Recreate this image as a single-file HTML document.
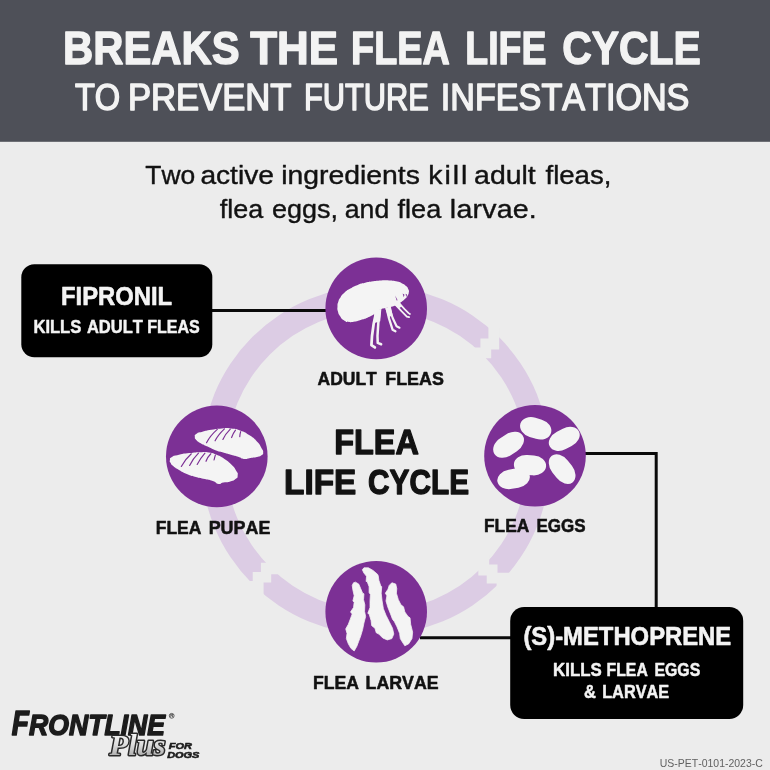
<!DOCTYPE html>
<html lang="en">
<head>
<meta charset="utf-8">
<title>Breaks the Flea Life Cycle</title>
<style>
html,body{margin:0;padding:0;background:#ececec;}
body{width:770px;height:770px;overflow:hidden;font-family:"Liberation Sans",sans-serif;}
svg{display:block;will-change:transform;}
text{font-family:"Liberation Sans",sans-serif;font-kerning:none;}
.b{font-weight:700;}
.w{fill:#f3f3f3;}
.k{fill:#121212;}
.g{fill:#626262;}
.sw{stroke:#f3f3f3;stroke-linejoin:round;}
.sk{stroke:#121212;stroke-linejoin:round;}
.bi{font-weight:700;font-style:italic;}
.lk{fill:#1c1c1c;stroke:#1c1c1c;stroke-linejoin:round;}
.lk2{fill:#1c1c1c;stroke:#1c1c1c;}
.plus{font-family:"Liberation Serif",serif;font-weight:700;font-style:italic;font-kerning:none;paint-order:stroke;stroke:#2a2a2a;stroke-width:2.9px;stroke-linejoin:round;fill:url(#pg);}
</style>
</head>
<body>
<svg width="770" height="770" viewBox="0 0 770 770">
  <rect width="770" height="770" fill="#ececec"/>
  <!-- header -->
  <rect width="770" height="141.8" fill="#4e5058"/>
  <text class="b w sw" y="63.50" font-size="46.97" stroke-width="1.40"><tspan x="63.00" textLength="176.53" lengthAdjust="spacingAndGlyphs">BREAKS</tspan> <tspan x="250.21" textLength="87.91" lengthAdjust="spacingAndGlyphs">THE</tspan> <tspan x="351.07" textLength="98.73" lengthAdjust="spacingAndGlyphs">FLEA</tspan> <tspan x="465.29" textLength="81.17" lengthAdjust="spacingAndGlyphs">LIFE</tspan> <tspan x="562.22" textLength="138.68" lengthAdjust="spacingAndGlyphs">CYCLE</tspan></text>
  <text class="w sw" y="110.05" font-size="37.02" stroke-width="1.50"><tspan x="74.92" textLength="45.29" lengthAdjust="spacingAndGlyphs">TO</tspan> <tspan x="127.91" textLength="163.53" lengthAdjust="spacingAndGlyphs">PREVENT</tspan> <tspan x="303.92" textLength="124.95" lengthAdjust="spacingAndGlyphs">FUTURE</tspan> <tspan x="440.80" textLength="248.62" lengthAdjust="spacingAndGlyphs">INFESTATIONS</tspan></text>
  <!-- subtitle -->
  <text class="k sk" y="184.10" font-size="26.42" stroke-width="0.40"><tspan x="145.31" textLength="49.90" lengthAdjust="spacingAndGlyphs">Two</tspan> <tspan x="200.40" textLength="73.55" lengthAdjust="spacingAndGlyphs">active</tspan> <tspan x="281.20" textLength="138.72" lengthAdjust="spacingAndGlyphs">ingredients</tspan> <tspan x="428.28" textLength="41.08" lengthAdjust="spacingAndGlyphs" style="letter-spacing:1.81px">kill</tspan> <tspan x="474.09" textLength="61.62" lengthAdjust="spacingAndGlyphs">adult</tspan> <tspan x="545.51" textLength="65.87" lengthAdjust="spacingAndGlyphs">fleas,</tspan></text>
  <text class="k sk" y="218.40" font-size="26.42" stroke-width="0.40"><tspan x="219.82" textLength="43.38" lengthAdjust="spacingAndGlyphs">flea</tspan> <tspan x="271.95" textLength="65.97" lengthAdjust="spacingAndGlyphs">eggs,</tspan> <tspan x="344.77" textLength="44.45" lengthAdjust="spacingAndGlyphs">and</tspan> <tspan x="397.52" textLength="43.68" lengthAdjust="spacingAndGlyphs">flea</tspan> <tspan x="449.88" textLength="87.03" lengthAdjust="spacingAndGlyphs" style="letter-spacing:0.18px">larvae.</tspan></text>

  <!-- ring -->
  <path fill="#dccce4" fill-rule="evenodd" d="M550.00 460.40A174.4 174.4 0 1 0 201.20 460.40A174.4 174.4 0 1 0 550.00 460.40ZM526.50 460.80A150.3 150.3 0 1 0 225.90 460.80A150.3 150.3 0 1 0 526.50 460.80Z"/>
  <!-- breaks -->
  <g fill="#ececec">
    <path d="M488.4 320V338.5H480.4V347.4H470V358.2H491.2V349.6H499.2V328Z"/>
    <path d="M489.2 555V564.5H497.5V572.7H514V592H496.6V583.5H486.7V575.5H478.3V555Z"/>
    <path d="M282 562.8H260.9V572H252.7V580.9H244V598H263.6V582.6H271.2V574.2H282Z"/>
  </g>

  <!-- connector lines -->
  <g stroke="#0a0a0a" stroke-width="3" fill="none">
    <path d="M212 310.6H330"/>
    <path d="M580 453.6H656.2V608"/>
    <path d="M420 637.7H512"/>
  </g>

  <!-- icon circles -->
  <g fill="#7c3095">
    <circle cx="376.2" cy="308.4" r="50.8"/>
    <circle cx="535" cy="455.7" r="50.8"/>
    <circle cx="376.2" cy="611.7" r="50.8"/>
    <circle cx="216.8" cy="456.4" r="50.8"/>
  </g>

  <!-- icons -->
  <g transform="translate(332 272) scale(0.11429)">
    <path fill="#f4f4f4" d="M48.0 300.0C49.0 271.7 46.0 286.7 55.0 260.0C64.0 233.3 56.7 246.7 75.0 220.0C93.3 193.3 81.7 205.0 110.0 180.0C138.3 155.0 123.3 166.7 160.0 145.0C196.7 123.3 176.7 131.7 220.0 115.0C263.3 98.3 243.3 106.0 290.0 95.0C336.7 84.0 313.3 88.7 360.0 82.0C406.7 75.3 383.3 77.3 430.0 75.0C476.7 72.7 456.7 72.7 500.0 75.0C543.3 77.3 523.3 74.3 560.0 82.0C596.7 89.7 581.7 85.3 610.0 98.0C638.3 110.7 625.7 102.7 645.0 120.0C664.3 137.3 659.0 130.0 668.0 150.0C677.0 170.0 674.7 160.0 672.0 180.0C669.3 200.0 670.7 191.7 660.0 210.0C649.3 228.3 656.7 218.3 640.0 235.0C623.3 251.7 633.3 243.3 610.0 260.0C586.7 276.7 600.0 270.0 570.0 285.0C540.0 300.0 553.3 295.0 520.0 305.0C486.7 315.0 500.0 308.3 470.0 315.0C440.0 321.7 453.3 315.0 430.0 325.0C406.7 335.0 423.3 328.3 400.0 345.0C376.7 361.7 390.0 356.7 360.0 375.0C330.0 393.3 346.7 385.0 310.0 400.0C273.3 415.0 290.0 408.3 250.0 420.0C210.0 431.7 226.7 430.0 190.0 435.0C153.3 440.0 170.0 440.0 140.0 435.0C110.0 430.0 123.3 436.7 100.0 420.0C76.7 403.3 86.0 410.0 70.0 385.0C54.0 360.0 59.3 373.3 52.0 345.0C44.7 316.7 47.0 328.3 48.0 300.0Z"/>
    <path fill="none" stroke="#f4f4f4" stroke-width="24" stroke-linecap="round" stroke-linejoin="round" d="M385 360L365 450L350 560L345 640L375 660"/>
    <path fill="none" stroke="#f4f4f4" stroke-width="22" stroke-linecap="round" stroke-linejoin="round" d="M415 350L405 450L398 560L400 620L430 632"/>
    <path fill="none" stroke="#f4f4f4" stroke-width="20" stroke-linecap="round" stroke-linejoin="round" d="M478 320L500 410L530 505L555 518"/>
    <path fill="none" stroke="#f4f4f4" stroke-width="19" stroke-linecap="round" stroke-linejoin="round" d="M502 310L530 400L565 475L590 487"/>
    <path fill="none" stroke="#f4f4f4" stroke-width="16" stroke-linecap="round" stroke-linejoin="round" d="M555 285L610 345L655 390L675 395"/>
    <path fill="none" stroke="#f4f4f4" stroke-width="15" stroke-linecap="round" stroke-linejoin="round" d="M585 270L635 325L670 360L682 368"/>
    <path fill="#f4f4f4" d="M372 345L432 322L422 430L364 448ZM466 318L514 298L530 380L494 396ZM546 286L588 260L614 300L586 318Z"/>
    <path fill="#7c3095" d="M552 205L566 250L574 248ZM618 188L628 222L634 200ZM644 190L650 220L656 196Z"/>
  </g>
  <g transform="translate(166 420) scale(0.12987)">
    <path fill="#f4f4f4" d="M222.0 130.0C222.0 113.3 215.7 118.3 235.0 105.0C254.3 91.7 241.7 100.0 280.0 90.0C318.3 80.0 300.0 83.3 350.0 75.0C400.0 66.7 380.0 68.3 430.0 65.0C480.0 61.7 453.3 60.0 500.0 65.0C546.7 70.0 523.3 63.3 570.0 80.0C616.7 96.7 596.7 86.7 640.0 115.0C683.3 143.3 668.3 131.7 700.0 165.0C731.7 198.3 719.0 186.7 735.0 215.0C751.0 243.3 748.0 231.0 748.0 250.0C748.0 269.0 751.0 260.3 735.0 272.0C719.0 283.7 728.3 278.3 700.0 285.0C671.7 291.7 683.3 287.0 650.0 292.0C616.7 297.0 630.0 302.3 600.0 300.0C570.0 297.7 593.3 295.7 560.0 285.0C526.7 274.3 540.0 279.7 500.0 268.0C460.0 256.3 480.0 262.0 440.0 250.0C400.0 238.0 420.0 247.0 380.0 232.0C340.0 217.0 356.7 222.3 320.0 205.0C283.3 187.7 298.3 196.7 270.0 180.0C241.7 163.3 251.0 171.7 235.0 155.0C219.0 138.3 222.0 146.7 222.0 130.0ZM30.0 310.0C33.3 295.0 21.7 299.0 45.0 285.0C68.3 271.0 55.0 278.0 100.0 268.0C145.0 258.0 126.7 261.7 180.0 255.0C233.3 248.3 210.0 249.7 260.0 248.0C310.0 246.3 286.7 243.3 330.0 250.0C373.3 256.7 350.0 251.3 390.0 268.0C430.0 284.7 411.7 274.3 450.0 300.0C488.3 325.7 475.0 315.0 505.0 345.0C535.0 375.0 524.3 363.3 540.0 390.0C555.7 416.7 553.7 403.3 552.0 425.0C550.3 446.7 555.7 438.3 535.0 455.0C514.3 471.7 521.7 466.0 490.0 475.0C458.3 484.0 468.3 476.3 440.0 482.0C411.7 487.7 431.7 496.0 405.0 492.0C378.3 488.0 395.0 482.3 360.0 470.0C325.0 457.7 343.3 465.7 300.0 455.0C256.7 444.3 276.7 451.3 230.0 438.0C183.3 424.7 203.3 432.7 160.0 415.0C116.7 397.3 135.0 405.0 100.0 385.0C65.0 365.0 76.7 373.3 55.0 355.0C33.3 336.7 43.3 345.0 35.0 330.0C26.7 315.0 26.7 325.0 30.0 310.0Z"/>
    <path fill="none" stroke="#7c3095" stroke-width="9" stroke-linecap="round" d="M312 175Q340 120 395 72M378 160Q400 115 450 68M438 150Q455 110 495 70M505 135Q515 105 535 78M568 128Q570 105 575 90M118 358Q145 305 195 260M182 350Q205 300 250 255M240 342Q262 298 300 255M308 318Q320 285 345 260M370 308Q375 285 380 270"/>
  </g>
  <g transform="translate(480 400) scale(0.142857)" fill="#f4f4f4">
    <rect x="278" y="128" width="224" height="140" rx="89" ry="70" transform="rotate(17 390 198)"/>
    <rect x="82" y="243" width="236" height="140" rx="94" ry="70" transform="rotate(-33 200 313)"/>
    <rect x="475" y="204" width="230" height="136" rx="92" ry="68" transform="rotate(-27 590 272)"/>
    <rect x="237" y="386" width="226" height="140" rx="90" ry="70" transform="rotate(4 350 456)"/>
    <rect x="120" y="483" width="230" height="136" rx="92" ry="68" transform="rotate(-10 235 551)"/>
    <rect x="457" y="416" width="236" height="136" rx="94" ry="68" transform="rotate(52 575 484)"/>
  </g>
  <g transform="translate(336 562) scale(0.12987)">
    <path fill="#f4f4f4" stroke="#f4f4f4" stroke-width="6" stroke-linejoin="round" d="M150.0 155.0L175.0 170.0L190.0 205.0L205.0 240.0L215.0 245.0L212.0 290.0L222.0 330.0L220.0 380.0L228.0 420.0L215.0 470.0L205.0 520.0L190.0 570.0L175.0 610.0L160.0 650.0L140.0 685.0L115.0 665.0L95.0 630.0L80.0 590.0L85.0 550.0L75.0 515.0L95.0 480.0L110.0 440.0L125.0 400.0L112.0 385.0L135.0 350.0L140.0 310.0L130.0 300.0L140.0 260.0L130.0 215.0L125.0 180.0L135.0 160.0ZM215.0 45.0L250.0 45.0L285.0 65.0L320.0 95.0L325.0 105.0L330.0 140.0L345.0 185.0L352.0 190.0L348.0 240.0L355.0 300.0L365.0 360.0L385.0 410.0L410.0 460.0L435.0 510.0L445.0 555.0L430.0 590.0L395.0 600.0L360.0 585.0L330.0 555.0L310.0 545.0L300.0 510.0L275.0 490.0L270.0 450.0L255.0 400.0L245.0 395.0L262.0 350.0L262.0 300.0L265.0 250.0L255.0 235.0L255.0 190.0L240.0 150.0L232.0 150.0L235.0 110.0L215.0 85.0L203.0 60.0ZM430.0 160.0L460.0 170.0L468.0 205.0L465.0 240.0L480.0 290.0L500.0 330.0L520.0 345.0L530.0 385.0L555.0 420.0L570.0 430.0L575.0 480.0L590.0 540.0L585.0 590.0L560.0 630.0L530.0 645.0L510.0 615.0L495.0 590.0L490.0 550.0L470.0 500.0L450.0 460.0L435.0 440.0L420.0 400.0L400.0 350.0L385.0 300.0L392.0 260.0L380.0 240.0L400.0 210.0L410.0 180.0Z"/>
  </g>

  <!-- boxes -->
  <rect x="21.3" y="264.3" width="191" height="93" rx="13" fill="#000"/>
  <text class="b w sw" y="305.40" font-size="26.13" stroke-width="0.60"><tspan x="61.01" textLength="111.13" lengthAdjust="spacingAndGlyphs">FIPRONIL</tspan></text>
  <text class="b w sw" y="333.45" font-size="19.17" stroke-width="0.50"><tspan x="33.44" textLength="47.86" lengthAdjust="spacingAndGlyphs">KILLS</tspan> <tspan x="86.94" textLength="55.89" lengthAdjust="spacingAndGlyphs">ADULT</tspan> <tspan x="147.18" textLength="52.60" lengthAdjust="spacingAndGlyphs">FLEAS</tspan></text>

  <rect x="510.2" y="607" width="233" height="112" rx="14" fill="#000"/>
  <text class="b w sw" y="645.40" font-size="26.13" stroke-width="0.60"><tspan x="523.41" textLength="207.82" lengthAdjust="spacingAndGlyphs">(S)-METHOPRENE</tspan></text>
  <text class="b w sw" y="675.75" font-size="18.97" stroke-width="0.50"><tspan x="553.12" textLength="48.58" lengthAdjust="spacingAndGlyphs">KILLS</tspan> <tspan x="606.60" textLength="41.17" lengthAdjust="spacingAndGlyphs">FLEA</tspan> <tspan x="654.49" textLength="45.78" lengthAdjust="spacingAndGlyphs">EGGS</tspan></text>
  <text class="b w sw" y="697.75" font-size="18.97" stroke-width="0.50"><tspan x="583.92" textLength="11.94" lengthAdjust="spacingAndGlyphs">&amp;</tspan> <tspan x="602.16" textLength="67.03" lengthAdjust="spacingAndGlyphs">LARVAE</tspan></text>

  <!-- labels -->
  <text class="b k sk" y="384.62" font-size="19.00" stroke-width="0.55"><tspan x="317.54" textLength="59.27" lengthAdjust="spacingAndGlyphs">ADULT</tspan> <tspan x="385.28" textLength="58.54" lengthAdjust="spacingAndGlyphs">FLEAS</tspan></text>
  <text class="b k sk" y="533.62" font-size="19.00" stroke-width="0.55"><tspan x="155.70" textLength="45.79" lengthAdjust="spacingAndGlyphs">FLEA</tspan> <tspan x="208.68" textLength="61.65" lengthAdjust="spacingAndGlyphs">PUPAE</tspan></text>
  <text class="b k sk" y="532.33" font-size="19.00" stroke-width="0.55"><tspan x="484.01" textLength="45.37" lengthAdjust="spacingAndGlyphs">FLEA</tspan> <tspan x="536.44" textLength="49.05" lengthAdjust="spacingAndGlyphs">EGGS</tspan></text>
  <text class="b k sk" y="689.23" font-size="19.00" stroke-width="0.55"><tspan x="313.00" textLength="45.99" lengthAdjust="spacingAndGlyphs">FLEA</tspan> <tspan x="365.59" textLength="73.03" lengthAdjust="spacingAndGlyphs">LARVAE</tspan></text>
  <text class="b k sk" y="454.25" font-size="35.31" stroke-width="1.30"><tspan x="334.18" textLength="84.62" lengthAdjust="spacingAndGlyphs">FLEA</tspan></text>
  <text class="b k sk" y="493.65" font-size="35.31" stroke-width="1.30"><tspan x="284.12" textLength="72.23" lengthAdjust="spacingAndGlyphs">LIFE</tspan> <tspan x="368.03" textLength="101.09" lengthAdjust="spacingAndGlyphs">CYCLE</tspan></text>

  <!-- logo -->
  <defs>
    <linearGradient id="pg" x1="0" y1="0" x2="0" y2="1">
      <stop offset="0" stop-color="#ffffff"/>
      <stop offset="0.5" stop-color="#dedede"/>
      <stop offset="1" stop-color="#9a9a9a"/>
    </linearGradient>
  </defs>
  <text class="bi lk" y="734.5"><tspan x="11.71" font-size="34.90" textLength="17.09" lengthAdjust="spacingAndGlyphs" stroke-width="1.60">F</tspan><tspan x="29.08" font-size="30.20" textLength="135.91" lengthAdjust="spacingAndGlyphs" stroke-width="1.50">RONTLINE</tspan></text>
  <text class="bi lk2" x="168.71" y="749.00" font-size="9.60" textLength="23.17" lengthAdjust="spacingAndGlyphs" stroke-width="0.60">FOR</text>
  <text class="bi lk2" x="167.21" y="757.60" font-size="9.60" textLength="32.20" lengthAdjust="spacingAndGlyphs" stroke-width="0.60">DOGS</text>
  <text class="plus" x="109.5" y="754.5" font-size="29" textLength="56" lengthAdjust="spacingAndGlyphs">Plus</text>
  <circle cx="171.7" cy="715.8" r="2.4" fill="none" stroke="#2a2a2a" stroke-width="0.7"/>
  <text x="170.2" y="717.4" font-size="4.2" class="b" fill="#2a2a2a">R</text>

  <!-- code -->
  <text class="g" x="659.79" y="766.70" font-size="11.80" textLength="103.01" lengthAdjust="spacingAndGlyphs">US-PET-0101-2023-C</text>
</svg>
</body>
</html>
